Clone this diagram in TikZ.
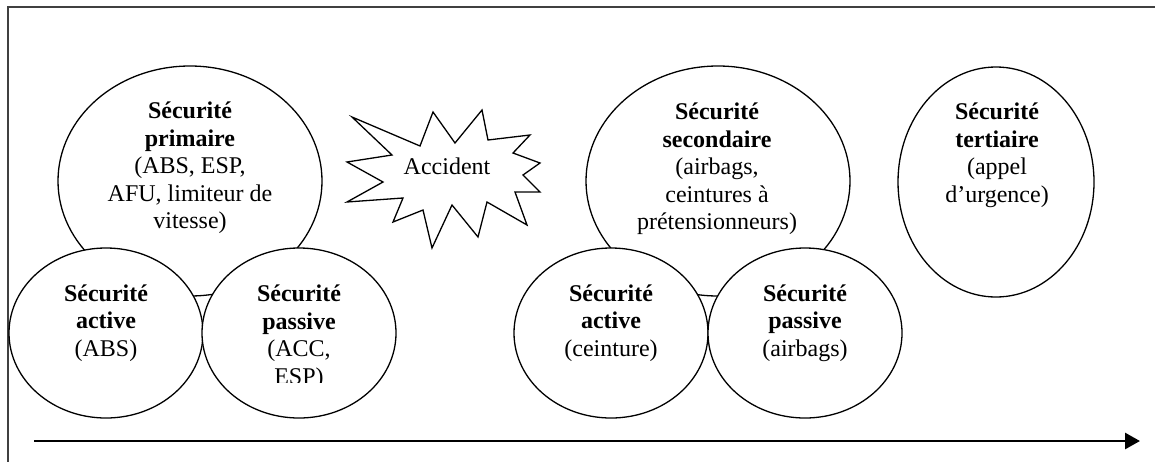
\documentclass[tikz,border=0pt]{standalone}
\usepackage{fontspec}
\setmainfont{Liberation Serif}
\usetikzlibrary{shapes.geometric,arrows.meta}
\begin{document}
\begin{tikzpicture}[x=1pt,y=-1pt,
  bubble/.style={ellipse,draw=black,fill=white,line width=1.3pt,inner sep=0pt},
  bigbubble/.style={bubble,minimum width=264pt,minimum height=230pt},
  smallbubble/.style={bubble,minimum width=194pt,minimum height=170pt},
  lbl/.style={align=center,font=\fontsize{24}{27.5}\selectfont,inner sep=0pt},
  frameline/.style={draw=black!75,line width=1.8pt}]
\useasboundingbox (0,0) rectangle (1155,461);
\draw[frameline] (8,480) -- (8,7) -- (1170,7);
% big ellipses
\node[bigbubble] (prim) at (190,181) {};
\node[bigbubble] (sec) at (718,181) {};
\node[bubble,minimum width=196pt,minimum height=230pt] (ter) at (996,182) {};
% small circles
\node[smallbubble] (actL) at (106,333) {};
\node[smallbubble] (pasL) at (299,333) {};
\node[smallbubble] (actR) at (611,333) {};
\node[smallbubble] (pasR) at (805,333) {};
% star
\draw[line width=1.3pt,fill=white] (352,117) -- (420,146) -- (433,112) -- (455,143) -- (482,110) -- (488,140) -- (530,135) -- (513,153) -- (540,163) -- (523,175) -- (540,192) -- (515,192) -- (527,225) -- (487,202) -- (478,237) -- (452,205) -- (432,248) -- (423,210) -- (393,222) -- (403,198) -- (347,202) -- (383,182) -- (347,162) -- (392,155) -- cycle;
\node[lbl] (acc) at (447,166) {Accident};
% texts
\node[lbl] (primtxt) at (190,168) {\textbf{Sécurité}\\\textbf{primaire}\\(ABS, ESP,\\AFU, limiteur de\\vitesse)};
\node[lbl] (sectxt) at (717,169) {\textbf{Sécurité}\\\textbf{secondaire}\\(airbags,\\ceintures à\\prétensionneurs)};
\node[lbl] (tertxt) at (997,155) {\textbf{Sécurité}\\\textbf{tertiaire}\\(appel\\d’urgence)};
\node[lbl] (actLtxt) at (106,323) {\textbf{Sécurité}\\\textbf{active}\\(ABS)};
\begin{scope}
\clip (200,250) rectangle (400,382);
\node[lbl] (pasLtxt) at (299,337) {\textbf{Sécurité}\\\textbf{passive}\\(ACC,\\ESP)};
\end{scope}
\node[lbl] (actRtxt) at (611,323) {\textbf{Sécurité}\\\textbf{active}\\(ceinture)};
\node[lbl] (pasRtxt) at (805,323) {\textbf{Sécurité}\\\textbf{passive}\\(airbags)};
% time arrow
\coordinate (tstart) at (34,441);
\coordinate (tend) at (1140,441);
\draw[line width=2.8pt,-{Triangle[length=15pt,width=16pt]}] (tstart) -- (tend);
\end{tikzpicture}
\end{document}
